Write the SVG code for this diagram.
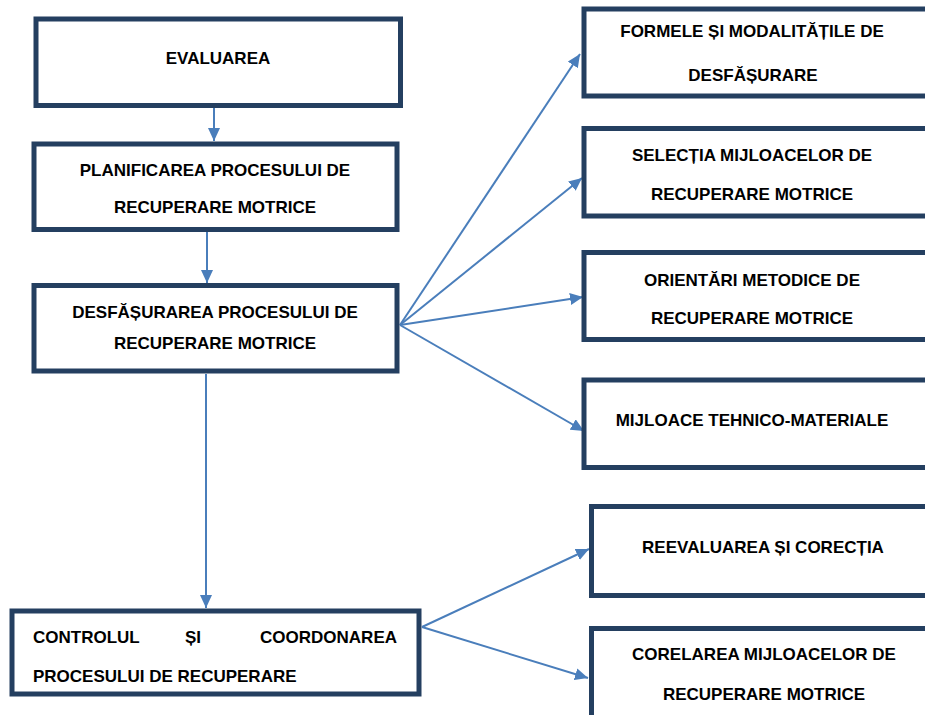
<svg xmlns="http://www.w3.org/2000/svg" width="925" height="715" viewBox="0 0 925 715">
  <style>
    .box { fill: #ffffff; stroke: #243F60; stroke-width: 5; }
    .t { font-family: "Liberation Sans", Arial, sans-serif; font-weight: bold; font-size: 17px; fill: #000000; }
    .c { text-anchor: middle; }
    .conn { stroke: #4A7EBB; stroke-width: 2; fill: none; marker-end: url(#arr); }
  </style>
  <defs>
    <marker id="arr" markerUnits="userSpaceOnUse" markerWidth="13" markerHeight="12" viewBox="0 0 13 12" refX="13" refY="6" orient="auto">
      <path d="M0,0 L13,6 L0,12 z" fill="#4A7EBB"/>
    </marker>
  </defs>
  <rect width="925" height="715" fill="#ffffff"/>

  <g id="connectors">
    <line class="conn" x1="214" y1="108" x2="214" y2="141"/>
    <line class="conn" x1="207" y1="232" x2="207" y2="283"/>
    <line class="conn" x1="206" y1="374" x2="206" y2="608"/>
    <line class="conn" x1="400" y1="325" x2="580" y2="54"/>
    <line class="conn" x1="400" y1="325" x2="582" y2="178"/>
    <line class="conn" x1="400" y1="325" x2="583" y2="297"/>
    <line class="conn" x1="400" y1="325" x2="584" y2="431"/>
    <line class="conn" x1="422" y1="627" x2="589" y2="549"/>
    <line class="conn" x1="422" y1="627" x2="588" y2="678"/>
  </g>

  <g id="evaluarea">
    <rect class="box" x="36" y="19" width="364.5" height="86.5"/>
    <text class="t c" x="218" y="64">EVALUAREA</text>
  </g>
  <g id="planificarea">
    <rect class="box" x="34" y="144" width="363" height="85.5"/>
    <text class="t c" x="215" y="176">PLANIFICAREA PROCESULUI DE</text>
    <text class="t c" x="215" y="213">RECUPERARE MOTRICE</text>
  </g>
  <g id="desfasurarea">
    <rect class="box" x="34" y="285.5" width="363" height="85.5"/>
    <text class="t c" x="215" y="318">DESFĂȘURAREA PROCESULUI DE</text>
    <text class="t c" x="215" y="349">RECUPERARE MOTRICE</text>
  </g>
  <g id="controlul">
    <rect class="box" x="12" y="611" width="407" height="83"/>
    <text class="t" x="33" y="643">CONTROLUL</text>
    <text class="t" x="185" y="643">ȘI</text>
    <text class="t" x="397" y="643" text-anchor="end">COORDONAREA</text>
    <text class="t" x="33" y="682">PROCESULUI DE RECUPERARE</text>
  </g>

  <g id="formele">
    <rect class="box" x="584" y="9" width="360" height="87"/>
    <text class="t c" x="752" y="37">FORMELE ȘI MODALITĂȚILE DE</text>
    <text class="t c" x="753" y="81">DESFĂȘURARE</text>
  </g>
  <g id="selectia">
    <rect class="box" x="584" y="128.5" width="360" height="87.5"/>
    <text class="t c" x="752" y="161">SELECȚIA MIJLOACELOR DE</text>
    <text class="t c" x="752" y="200">RECUPERARE MOTRICE</text>
  </g>
  <g id="orientari">
    <rect class="box" x="584" y="252.5" width="360" height="87"/>
    <text class="t c" x="752" y="286">ORIENTĂRI METODICE DE</text>
    <text class="t c" x="752" y="324">RECUPERARE MOTRICE</text>
  </g>
  <g id="mijloace">
    <rect class="box" x="584" y="380" width="360" height="87.5"/>
    <text class="t c" x="752" y="426">MIJLOACE TEHNICO-MATERIALE</text>
  </g>
  <g id="reevaluarea">
    <rect class="box" x="591.5" y="506.5" width="360" height="89"/>
    <text class="t c" x="763" y="553">REEVALUAREA ȘI CORECȚIA</text>
  </g>
  <g id="corelarea">
    <rect class="box" x="591.5" y="628.5" width="360" height="100"/>
    <text class="t c" x="764" y="660">CORELAREA MIJLOACELOR DE</text>
    <text class="t c" x="764" y="700">RECUPERARE MOTRICE</text>
  </g>
</svg>
